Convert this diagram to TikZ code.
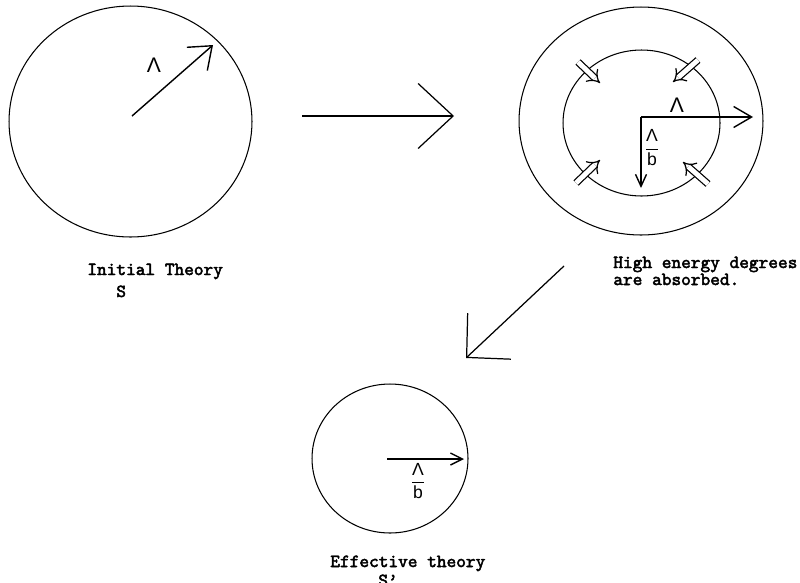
\documentclass[tikz,border=0pt]{standalone}
\usepackage{fontspec}
\usepackage{amsmath}
\usetikzlibrary{shapes.geometric,arrows.meta}
\newfontfamily\greekfont{Liberation Sans}
\newfontfamily\capfont{Latin Modern Mono}[AutoFakeBold=2.6]
\tikzset{
  ring/.style={ellipse,draw,line width=0.6pt,inner sep=0pt},
  ray/.style={line width=0.8pt},
  flow/.style={-{Straight Barb[length=0.7cm,width=1.3cm]},line width=0.7pt},
  squeeze/.style={double,double distance=2.8pt,line width=0.7pt,-{Implies}},
  caption/.style={font=\fontsize{10.5}{12}\selectfont\capfont\bfseries,inner sep=0pt,anchor=base west},
  lam/.style={font=\fontsize{12}{14}\selectfont\greekfont,inner sep=0pt},
  ratio/.style={font=\fontsize{10}{12}\selectfont\greekfont,inner sep=0pt}
}
\newcommand{\cutoff}{$\dfrac{\text{\greekfont Λ}}{\text{\greekfont b}}$}

\begin{document}
\begin{tikzpicture}[x=0.02cm,y=-0.02cm]
\useasboundingbox (0,0) rectangle (800,582);

% initial theory
\node[ring,minimum width=4.86cm,minimum height=4.62cm] (init) at (130.5,121.5) {};
\coordinate (initO) at (132,116);
\coordinate (initR) at (213,45);
\draw[ray,-{Straight Barb[length=0.4cm,width=0.62cm]}] (initO) -- (initR);
\node[lam] (initL) at (154,65) {Λ};
\node[caption] (initTxt) at (87,275) {Initial Theory};
\node[caption] (initS) at (116,297) {S};

% step to the right
\coordinate (stepA) at (302,116);
\coordinate (stepB) at (454,116);
\draw[flow] (stepA) -- (stepB);

% shell being absorbed
\node[ring,minimum width=4.88cm,minimum height=4.56cm] (outer) at (641,121) {};
\node[ring,minimum width=3.14cm,minimum height=2.92cm] (inner) at (641.5,123) {};
\coordinate (midO) at (641,117);
\coordinate (midR) at (753,117);
\coordinate (midD) at (641,188);
\draw[ray,-{Straight Barb[length=0.36cm,width=0.42cm]}] (midO) -- (midR);
\draw[ray,-{Straight Barb[length=0.24cm,width=0.22cm]}] (midO) -- (midD);
\node[lam] (midL) at (677,105) {Λ};
\node[ratio] (midB) at (652,148) {\cutoff};

\coordinate (sqA1) at (578,62);
\coordinate (sqA2) at (600,83);
\coordinate (sqB1) at (698,60);
\coordinate (sqB2) at (673,82);
\coordinate (sqC1) at (576,183);
\coordinate (sqC2) at (600,160);
\coordinate (sqD1) at (708,184);
\coordinate (sqD2) at (683,162);
\draw[squeeze] (sqA1) -- (sqA2);
\draw[squeeze] (sqB1) -- (sqB2);
\draw[squeeze] (sqC1) -- (sqC2);
\draw[squeeze] (sqD1) -- (sqD2);

\node[caption] (highTxt) at (613,268) {High energy degrees};
\node[caption] (highTxt2) at (613,285) {are absorbed.};

% step down
\coordinate (downA) at (564,266);
\coordinate (downB) at (466,358);
\draw[flow,-{Straight Barb[length=0.62cm,width=1.26cm]}] (downA) -- (downB);

% effective theory
\node[ring,minimum width=3.12cm,minimum height=2.98cm] (eff) at (390,458.5) {};
\coordinate (effO) at (387,459);
\coordinate (effR) at (464,459);
\draw[ray,-{Straight Barb[length=0.24cm,width=0.24cm]}] (effO) -- (effR);
\node[ratio] (effB) at (418,481) {\cutoff};
\node[caption] (effTxt) at (330,567) {Effective theory};
\node[caption] (effS) at (378,586) {S’};
\end{tikzpicture}
\end{document}
